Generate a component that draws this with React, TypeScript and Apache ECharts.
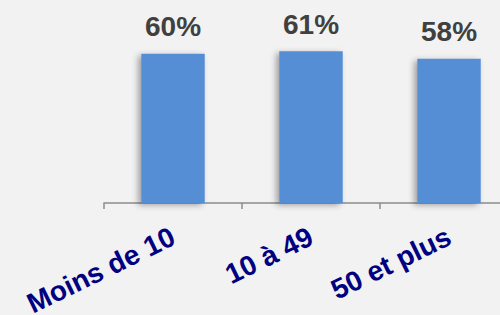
import React, { useEffect, useRef } from "react";
import * as echarts from "echarts";

const categories = ["Moins de 10", "10 à 49", "50 et plus"];
const values = [60, 61, 58];

export default function App() {
  const ref = useRef<HTMLDivElement>(null);
  useEffect(() => {
    const chart = echarts.init(ref.current!, null, { renderer: "svg" });
    chart.setOption({
      animation: false,
      backgroundColor: "#f2f2f2",
      grid: { left: 104, width: 414, top: 4, bottom: 112, outerBoundsMode: "none", containLabel: false },
      xAxis: {
        type: "category",
        data: categories,
        axisLine: { lineStyle: { color: "#8c8c8c", width: 1.5 } },
        axisTick: { show: true, length: 6, lineStyle: { color: "#8c8c8c", width: 1.5 } },
        axisLabel: {
          rotate: 26,
          margin: 32,
          color: "#000080",
          fontWeight: "bold",
          fontSize: 28,
          fontFamily: "Liberation Sans",
          interval: 0,
        },
      },
      yAxis: { type: "value", min: 0, max: 80, show: false },
      series: [
        {
          type: "bar",
          data: values,
          barWidth: "46%",
          itemStyle: {
            color: "#558ed5",
            shadowColor: "rgba(0,0,0,0.35)",
            shadowBlur: 6,
            shadowOffsetX: -3,
            shadowOffsetY: 2,
          },
          label: {
            show: true,
            position: "top",
            distance: 13,
            formatter: "{c}%",
            color: "#404040",
            fontWeight: "bold",
            fontSize: 28,
            fontFamily: "Liberation Sans",
          },
        },
      ],
    });
    return () => chart.dispose();
  }, []);
  return <div ref={ref} style={{ width: 500, height: 315, position: "absolute", left: 0, top: 0 }} />;
}
